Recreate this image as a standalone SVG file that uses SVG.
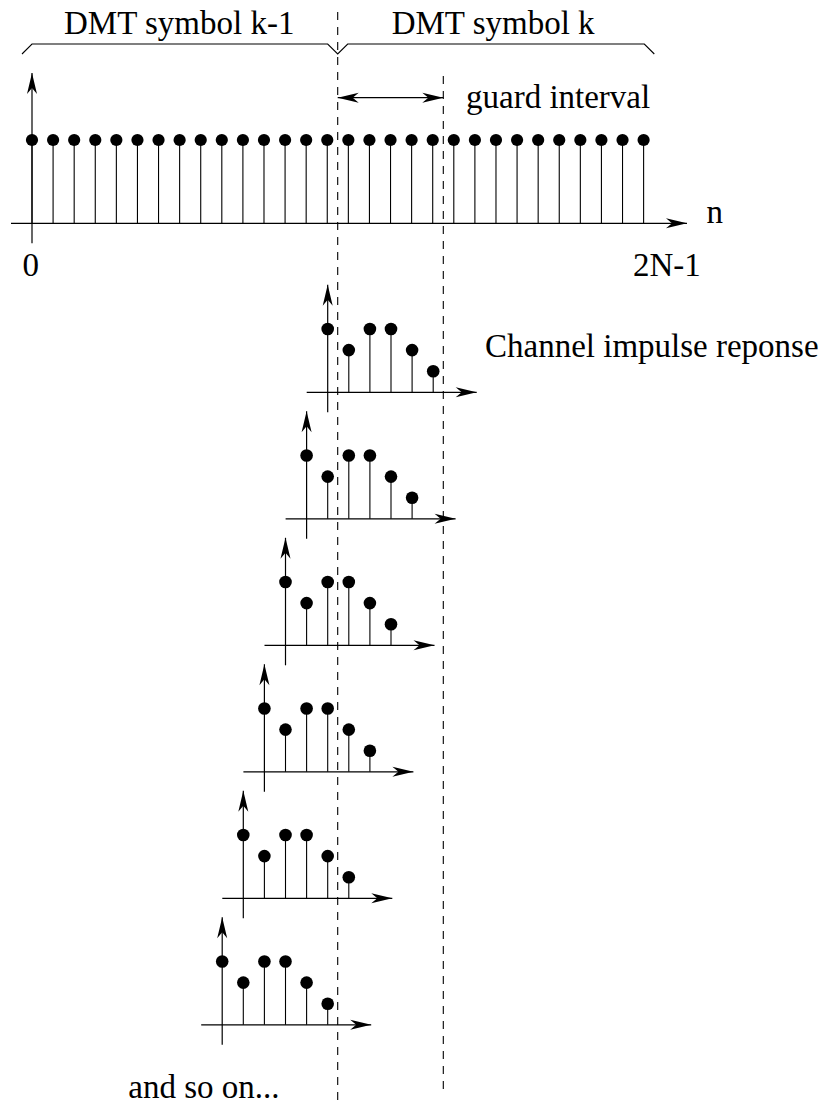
<svg xmlns="http://www.w3.org/2000/svg" xmlns:xlink="http://www.w3.org/1999/xlink" width="832" height="1103" viewBox="0 0 832 1103">
  <style>
    .ln { stroke: #000; stroke-width: 1.2; fill: none; }
    .stem { stroke: #000; stroke-width: 1.1; fill: none; }
    .dash { stroke: #000; stroke-width: 1.1; fill: none; stroke-dasharray: 8 7; }
    .dot { fill: #000; }
    .lbl { font-family: "Liberation Serif", "Times New Roman", serif; font-size: 33px; fill: #000; }
  </style>
  <defs>
    <marker id="arrow" markerUnits="userSpaceOnUse" viewBox="-22 -6 23 12" refX="0" refY="0" markerWidth="23" markerHeight="12" orient="auto-start-reverse">
      <path d="M0,0 L-21,-5 L-15,0 L-21,5 Z" fill="#000"/>
    </marker>
    <!-- channel impulse response: six taps on their own axes -->
    <g id="resp">
      <line class="stem" x1="21.1" y1="0" x2="21.1" y2="-42.2"/>
      <line class="stem" x1="42.2" y1="0" x2="42.2" y2="-63.3"/>
      <line class="stem" x1="63.3" y1="0" x2="63.3" y2="-63.3"/>
      <line class="stem" x1="84.4" y1="0" x2="84.4" y2="-42.2"/>
      <line class="stem" x1="105.5" y1="0" x2="105.5" y2="-21.1"/>
      <line class="ln" x1="0" y1="20" x2="0" y2="-107.5" marker-end="url(#arrow)"/>
      <line class="ln" x1="-21" y1="0" x2="149" y2="0" marker-end="url(#arrow)"/>
      <circle class="dot" cx="0" cy="-63.3" r="6.3"/>
      <circle class="dot" cx="21.1" cy="-42.2" r="6.3"/>
      <circle class="dot" cx="42.2" cy="-63.3" r="6.3"/>
      <circle class="dot" cx="63.3" cy="-63.3" r="6.3"/>
      <circle class="dot" cx="84.4" cy="-42.2" r="6.3"/>
      <circle class="dot" cx="105.5" cy="-21.1" r="6.3"/>
    </g>
    <!-- one sample of the transmitted sequence -->
    <g id="tap">
      <line class="stem" x1="0" y1="0" x2="0" y2="-83.3"/>
      <circle class="dot" cx="0" cy="-83.3" r="6.1"/>
    </g>
  </defs>

  <rect x="0" y="0" width="832" height="1103" fill="#fff"/>

  <!-- symbol boundary and guard-interval markers -->
  <g id="connectors">
    <line class="dash" x1="337.7" y1="12" x2="337.7" y2="1103"/>
    <line class="dash" x1="443.3" y1="76" x2="443.3" y2="1096"/>
    <line class="ln" x1="337.7" y1="97.7" x2="443.3" y2="97.7" marker-start="url(#arrow)" marker-end="url(#arrow)"/>
  </g>

  <!-- braces over the two DMT symbols -->
  <g id="braces">
    <polyline class="ln" style="stroke-width:1.1" points="22,54 32,44 327.7,44 337.7,54 347.7,44 644.3,44 654.3,54"/>
    <text class="lbl" x="64" y="34.3">DMT symbol k-1</text>
    <text class="lbl" x="391.7" y="34.3">DMT symbol k</text>
  </g>

  <text id="guard-label" class="lbl" x="466" y="108.3">guard interval</text>

  <!-- transmitted sequence, n = 0 .. 2N-1 -->
  <g id="sequence">
    <line class="ln" x1="32" y1="243.3" x2="32" y2="73" marker-end="url(#arrow)"/>
    <line class="ln" x1="11" y1="223.3" x2="687" y2="223.3" marker-end="url(#arrow)"/>
    <g transform="translate(0,223.3)">
      <use xlink:href="#tap" x="32"/>
      <use xlink:href="#tap" x="53.09"/>
      <use xlink:href="#tap" x="74.18"/>
      <use xlink:href="#tap" x="95.27"/>
      <use xlink:href="#tap" x="116.36"/>
      <use xlink:href="#tap" x="137.45"/>
      <use xlink:href="#tap" x="158.54"/>
      <use xlink:href="#tap" x="179.63"/>
      <use xlink:href="#tap" x="200.72"/>
      <use xlink:href="#tap" x="221.81"/>
      <use xlink:href="#tap" x="242.9"/>
      <use xlink:href="#tap" x="263.99"/>
      <use xlink:href="#tap" x="285.08"/>
      <use xlink:href="#tap" x="306.17"/>
      <use xlink:href="#tap" x="327.26"/>
      <use xlink:href="#tap" x="348.35"/>
      <use xlink:href="#tap" x="369.44"/>
      <use xlink:href="#tap" x="390.53"/>
      <use xlink:href="#tap" x="411.62"/>
      <use xlink:href="#tap" x="432.71"/>
      <use xlink:href="#tap" x="453.8"/>
      <use xlink:href="#tap" x="474.89"/>
      <use xlink:href="#tap" x="495.98"/>
      <use xlink:href="#tap" x="517.07"/>
      <use xlink:href="#tap" x="538.16"/>
      <use xlink:href="#tap" x="559.25"/>
      <use xlink:href="#tap" x="580.34"/>
      <use xlink:href="#tap" x="601.43"/>
      <use xlink:href="#tap" x="622.52"/>
      <use xlink:href="#tap" x="643.61"/>
    </g>
    <text class="lbl" x="706.5" y="223.3">n</text>
    <text class="lbl" x="22.5" y="276">0</text>
    <text class="lbl" x="633" y="276">2N-1</text>
  </g>

  <!-- channel impulse response, shifted one sample per row -->
  <g id="response-0">
    <use xlink:href="#resp" transform="translate(327.7,392.3)"/>
    <text class="lbl" x="485" y="357">Channel impulse reponse</text>
  </g>
  <g id="response-1"><use xlink:href="#resp" transform="translate(306.6,518.8)"/></g>
  <g id="response-2"><use xlink:href="#resp" transform="translate(285.5,645.3)"/></g>
  <g id="response-3"><use xlink:href="#resp" transform="translate(264.4,771.8)"/></g>
  <g id="response-4"><use xlink:href="#resp" transform="translate(243.3,898.3)"/></g>
  <g id="response-5"><use xlink:href="#resp" transform="translate(222.2,1024.8)"/></g>

  <text id="more" class="lbl" x="128.3" y="1098">and so on...</text>
</svg>
